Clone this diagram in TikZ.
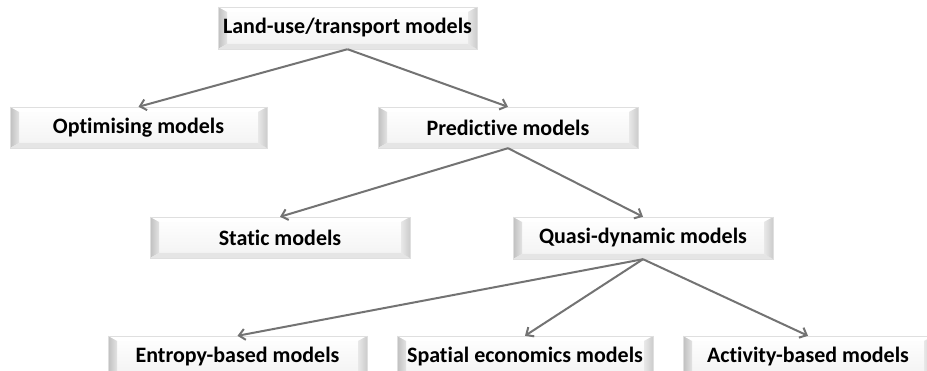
\documentclass[tikz,border=0pt]{standalone}
\usepackage{fontspec}
\setmainfont{Carlito}[Ligatures=NoCommon]
\usetikzlibrary{arrows.meta,calc}
\begin{document}
\begin{tikzpicture}[x=1pt,y=-1pt,
  bevel/.style={minimum height=41pt, inner sep=0pt, font=\bfseries\fontsize{22}{26}\selectfont,
    draw=gray!25, top color=white, bottom color=gray!10,
    path picture={
      \coordinate (nw) at (path picture bounding box.north west);
      \coordinate (ne) at (path picture bounding box.north east);
      \coordinate (sw) at (path picture bounding box.south west);
      \coordinate (se) at (path picture bounding box.south east);
      \fill[white] (nw) -- ($(nw)+(9pt,-5pt)$) -- ($(ne)+(-9pt,-5pt)$) -- (ne) -- cycle;
      \shade[left color=gray!50, right color=gray!22] (nw) -- ($(nw)+(9pt,-5pt)$) -- ($(sw)+(9pt,5pt)$) -- (sw) -- cycle;
      \fill[gray!20] (sw) -- ($(sw)+(9pt,5pt)$) -- ($(se)+(-9pt,5pt)$) -- (se) -- cycle;
      \shade[left color=gray!18, right color=gray!40] (ne) -- ($(ne)+(-9pt,-5pt)$) -- ($(se)+(-9pt,5pt)$) -- (se) -- cycle;
    }},
  conn/.style={draw=black!55, line width=2pt, -{Straight Barb[length=6pt,width=11pt,line width=2pt]}}]
\useasboundingbox[fill=white] (0,0) rectangle (927,371);
\node[bevel, minimum width=259pt, minimum height=42pt] (top) at (347.5,28) {Land-use/transport models};
\node[bevel, minimum width=257pt] (opt) at (138.5,127.5) {Optimising models};
\node[bevel, minimum width=260pt] (pred) at (508,127.5) {Predictive models};
\node[bevel, minimum width=260pt] (stat) at (280,237.5) {Static models};
\node[bevel, minimum width=260pt, minimum height=42pt] (quasi) at (643,238) {Quasi-dynamic models};
\node[bevel, minimum width=259pt] (ent) at (237.5,356.5) {Entropy-based models};
\node[bevel, minimum width=256pt] (spat) at (525,356.5) {Spatial economics models};
\node[bevel, minimum width=250pt] (act) at (808,356.5) {Activity-based models};
\draw[conn] (top.south) -- (opt.north);
\draw[conn] (top.south) -- (pred.north);
\draw[conn] (pred.south) -- (stat.north);
\draw[conn] (pred.south) -- (quasi.north);
\draw[conn] (quasi.south) -- (ent.north);
\draw[conn] (quasi.south) -- (spat.north);
\draw[conn] (quasi.south) -- (act.north);
\end{tikzpicture}
\end{document}
